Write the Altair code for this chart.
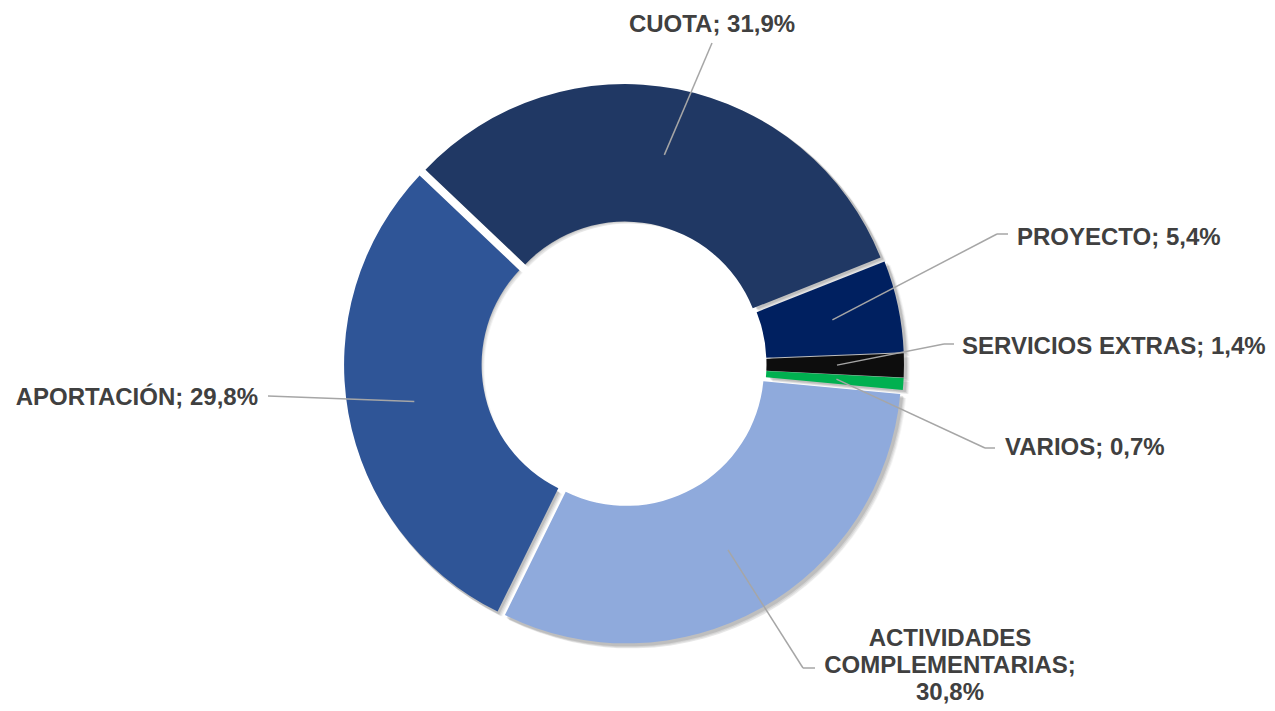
import math
import altair as alt
import pandas as pd

# ---- data ----
categories = ["CUOTA", "PROYECTO", "SERVICIOS EXTRAS", "VARIOS",
              "ACTIVIDADES COMPLEMENTARIAS", "APORTACIÓN"]
values = [31.9, 5.4, 1.4, 0.7, 30.8, 29.8]
label_texts = ["CUOTA; 31,9%", "PROYECTO; 5,4%", "SERVICIOS EXTRAS; 1,4%",
               "VARIOS; 0,7%", "ACTIVIDADES\nCOMPLEMENTARIAS;\n30,8%",
               "APORTACIÓN; 29,8%"]

# ---- styles ----
colors = ["#203864", "#002060", "#0D0D0D", "#00B050", "#8FAADC", "#2F5597"]

# ---- label layout (annotation positions, chart pixels) ----
label_x = [704, 1009, 954, 997, 942, 250]
label_y = [17, 230, 339, 440, 631, 390]
label_align = ["center", "left", "left", "left", "center", "right"]
elbow_x = [704, 989, 936, 977, 795, 260]
elbow_y = [35, 226, 336, 440, 660, 388]
hend_x = [704, 1000, 946, 987, 807, 260]

W, H = 1259, 701
CX, CY = 616, 356          # donut centre
R_OUT, R_IN = 275, 137.5   # radii
EXPLODE = 5                # slice explosion
R_LEAD = 208               # where leader lines start
START = -46.5 * math.pi / 180
TOTAL = sum(values)

df = pd.DataFrame({
    "idx": list(range(len(categories))),
    "cat": categories,
    "value": values,
    "label": label_texts,
    "lx": label_x,
    "ly": label_y,
    "align": label_align,
    "ex": elbow_x,
    "ey": elbow_y,
    "hx": hend_x,
})

base = (
    alt.Chart(df)
    .transform_window(cum="sum(value)", sort=[alt.SortField("idx")], frame=[None, 0])
    .transform_calculate(
        t0="datum.cum - datum.value",
        mid=f"{START} + 2*PI*(datum.cum - datum.value/2)/{TOTAL}",
        px=f"{CX} + {EXPLODE}*sin(datum.mid)",
        py=f"{CY} - {EXPLODE}*cos(datum.mid)",
        sx=f"datum.px + {R_LEAD}*sin(datum.mid)",
        sy=f"datum.py - {R_LEAD}*cos(datum.mid)",
    )
)

theta_scale = alt.Scale(domain=[0, TOTAL], range=[START, START + 2 * math.pi])


def arc_enc():
    return dict(
        theta=alt.Theta("t0:Q", scale=theta_scale),
        theta2="cum:Q",
        x=alt.X("sxp:Q", scale=None, axis=None),
        y=alt.Y("syp:Q", scale=None, axis=None),
    )


layers = []
# soft shadow
for dx, dy, op in [(2, 2, 0.10), (3, 3, 0.08), (4, 4, 0.06), (5, 4, 0.04)]:
    layers.append(
        base.transform_calculate(sxp=f"datum.px + {dx}", syp=f"datum.py + {dy}")
        .mark_arc(outerRadius=R_OUT + 1, innerRadius=R_IN + 2, color="black", opacity=op)
        .encode(**arc_enc())
    )

slices = (
    base.transform_calculate(sxp="datum.px", syp="datum.py")
    .mark_arc(outerRadius=R_OUT, innerRadius=R_IN)
    .encode(
        color=alt.Color("cat:N", scale=alt.Scale(domain=categories, range=colors), legend=None),
        **arc_enc(),
    )
)
layers.append(slices)

lead1 = base.mark_rule(color="#A6A6A6", strokeWidth=1.5).encode(
    x=alt.X("sx:Q", scale=None, axis=None),
    y=alt.Y("sy:Q", scale=None, axis=None),
    x2="ex:Q",
    y2="ey:Q",
)
lead2 = base.mark_rule(color="#A6A6A6", strokeWidth=1.5).encode(
    x=alt.X("ex:Q", scale=None, axis=None),
    y=alt.Y("ey:Q", scale=None, axis=None),
    x2="hx:Q",
    y2="ey:Q",
)
layers += [lead1, lead2]

for al in ["left", "center", "right"]:
    layers.append(
        base.transform_filter(f"datum.align == '{al}'")
        .mark_text(align=al, baseline="middle", font="Liberation Sans", fontWeight="bold",
                   fontSize=24, color="#404040", lineBreak="\n", lineHeight=27)
        .encode(
            x=alt.X("lx:Q", scale=None, axis=None),
            y=alt.Y("ly:Q", scale=None, axis=None),
            text="label:N",
        )
    )

chart = (
    alt.layer(*layers)
    .properties(width=W, height=H, padding=0,
                autosize=alt.AutoSizeParams(type="none"))
    .configure_view(stroke=None)
)

chart.save("out.html", embed_options={"renderer": "svg", "actions": False})
